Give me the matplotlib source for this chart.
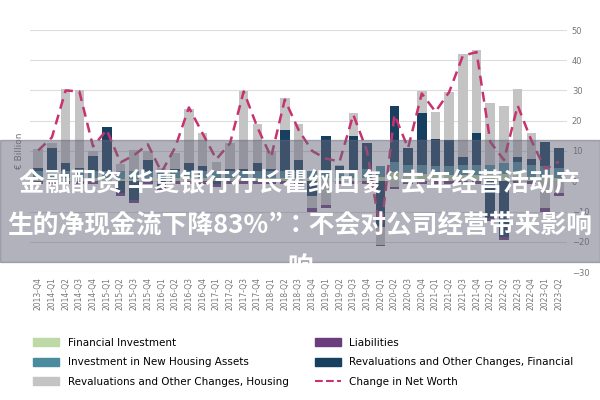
import numpy as np
import matplotlib.pyplot as plt
from matplotlib.patches import Rectangle
from matplotlib.lines import Line2D

quarters = ['2013-Q4', '2014-Q1', '2014-Q2', '2014-Q3', '2014-Q4', '2015-Q1', '2015-Q2', '2015-Q3',
            '2015-Q4', '2016-Q1', '2016-Q2', '2016-Q3', '2016-Q4', '2017-Q1', '2017-Q2', '2017-Q3',
            '2017-Q4', '2018-Q1', '2018-Q2', '2018-Q3', '2018-Q4', '2019-Q1', '2019-Q2', '2019-Q3',
            '2019-Q4', '2020-Q1', '2020-Q2', '2020-Q3', '2020-Q4', '2021-Q1', '2021-Q2', '2021-Q3',
            '2021-Q4', '2022-Q1', '2022-Q2', '2022-Q3', '2022-Q4', '2023-Q1', '2023-Q2']

fin_invest = [1.0, 1.0, 1.0, 1.0, 1.0, 1.0, 0.8, 0.8, 1.0, 0.8, 1.0, 1.0, 1.0, 0.8, 1.0, 1.0,
              1.0, 1.0, 1.0, 1.0, 1.0, 1.0, 1.0, 1.0, 1.0, 1.5, 3.0, 2.5, 2.5, 2.0, 2.0, 2.0,
              2.0, 2.5, 2.5, 2.5, 1.5, 1.0, 1.0]
housing_invest = [2.5, 2.5, 2.5, 2.5, 2.5, 2.5, 2.5, 2.5, 2.5, 2.5, 2.5, 2.5, 2.5, 2.5, 2.5, 2.5,
                  2.5, 2.5, 2.5, 2.5, 2.5, 2.5, 2.5, 2.5, 3.0, 3.5, 3.5, 3.0, 3.0, 3.0, 3.0, 3.5,
                  3.5, 3.0, 3.5, 4.0, 4.0, 4.0, 3.5]
liabilities = [-0.8, -1.0, -1.0, -1.0, -1.0, -1.0, -1.0, -1.0, -1.0, -1.0, -1.0, -1.0, -1.0, -1.0,
               -1.0, -1.0, -1.0, -1.0, -1.0, -1.0, -1.0, -1.0, -1.0, -1.0, -1.0, -0.5, -0.5, -1.0,
               -1.0, -1.0, -1.0, -1.0, -1.0, -1.0, -1.0, -1.0, -1.0, -1.0, -1.0]
reval_fin = [1.0, 7.5, 2.5, 1.0, 5.0, 14.5, -4.0, -6.3, 3.5, -2.0, 0.5, 2.5, 1.5, -1.0, 0.5, 0.5,
             2.5, 0.5, 13.5, 3.5, -5.0, 11.5, 1.5, 11.5, 8.5, -15.0, 18.5, 5.5, 17.0, 9.0, 8.5, 2.5,
             10.5, -12.0, -18.5, 1.5, 2.0, 8.0, 6.5]
reval_housing = [6.0, 1.5, 24.5, 25.5, 1.5, 0.0, 2.5, 7.0, 3.0, 1.0, 5.5, 18.0, 11.0, 3.0, 8.5, 26.0,
                 13.0, 6.0, 10.5, 12.0, -4.0, -8.0, 0.5, 7.5, 0.0, -6.0, -2.0, 0.0, 7.5, 9.0, 16.0, 34.0,
                 27.5, 20.5, 19.0, 22.5, 8.5, -9.0, -4.0]
net_worth = [10.2, 14.5, 30.0, 29.7, 11.5, 17.0, 6.2, 8.6, 12.2, 3.0, 11.2, 24.4, 15.8, 7.3, 12.5, 29.7,
             17.8, 8.0, 27.0, 17.0, 10.0, 7.5, 6.5, 22.0, 10.0, -17.0, 22.0, 11.0, 29.0, 23.0, 29.5, 41.5,
             42.7, 13.0, 7.0, 25.0, 13.5, 4.0, 6.5]

c_fin = '#bcd9a6'
c_liab = '#6b3d7d'
c_hinv = '#4a8c9e'
c_rfin = '#173f5f'
c_rhou = '#c4c4c4'
c_net = '#c8326e'

fig = plt.figure(figsize=(6, 4), dpi=100)
ax = fig.add_axes([0.05, 0.32, 0.895, 0.605])

x = np.arange(len(quarters))
series = [(fin_invest, c_fin), (housing_invest, c_hinv), (reval_fin, c_rfin),
          (reval_housing, c_rhou), (liabilities, c_liab)]
pos_base = np.zeros(len(x))
neg_base = np.zeros(len(x))
for vals, col in series:
    v = np.array(vals)
    bottom = np.where(v >= 0, pos_base, neg_base)
    ax.bar(x, v, 0.7, bottom=bottom, color=col, zorder=2)
    pos_base += np.where(v >= 0, v, 0)
    neg_base += np.where(v < 0, v, 0)

ax.plot(x, net_worth, color=c_net, lw=1.8, ls=(0, (4, 2.5)), zorder=3)

ax.set_ylim(-30, 50)
ax.set_yticks(range(-30, 51, 10))
ax.yaxis.tick_right()
ax.tick_params(axis='y', length=0, labelsize=6, colors='#777777')
ax.set_xlim(-0.6, len(x) - 0.4)
ax.set_xticks(x)
ax.set_xticklabels(quarters, rotation=90, fontsize=5.5, color='#777777')
ax.tick_params(axis='x', length=0)
ax.grid(axis='y', color='#dddddd', lw=0.8, zorder=0)
for s in ax.spines.values():
    s.set_visible(False)
ax.set_ylabel('€ Billion', fontsize=6.5, color='#777777')

handles = [Rectangle((0, 0), 1, 1, color=c_fin),
           Rectangle((0, 0), 1, 1, color=c_hinv),
           Rectangle((0, 0), 1, 1, color=c_rhou),
           Rectangle((0, 0), 1, 1, color=c_liab),
           Rectangle((0, 0), 1, 1, color=c_rfin),
           Line2D([0], [0], color=c_net, lw=1.5, ls='--')]
labels = ['Financial Investment', 'Investment in New Housing Assets',
          'Revaluations and Other Changes, Housing', 'Liabilities',
          'Revaluations and Other Changes, Financial', 'Change in Net Worth']
fig.legend(handles, labels, ncol=2, loc='lower left', bbox_to_anchor=(0.04, 0.01),
           frameon=False, fontsize=7.5, handlelength=2.5, handleheight=0.8,
           columnspacing=2.5, labelspacing=0.9)

# overlay banner
fig.patches.append(Rectangle((0, 1 - 262 / 400), 1, 122 / 400, transform=fig.transFigure,
                             color='#66667a', alpha=0.5, zorder=5))
font = ['Noto Sans CJK SC', 'Noto Sans CJK JP', 'Noto Sans CJK TC', 'DejaVu Sans']
fig.text(0.5, 1 - 184 / 400, '金融配资 华夏银行行长瞿纲回复“去年经营活动产', ha='center', va='center',
         fontsize=18.5, color='white', fontweight='bold', family=font, zorder=6)
fig.text(0.5, 1 - 225 / 400, '生的净现金流下降83%”：不会对公司经营带来影响', ha='center', va='center',
         fontsize=18.5, color='white', fontweight='bold', family=font, zorder=6)
fig.text(0.5, 1 - 268 / 400, '响', ha='center', va='center',
         fontsize=18.5, color='white', fontweight='bold', family=font, zorder=6)

fig.savefig('out.png', dpi=100)
